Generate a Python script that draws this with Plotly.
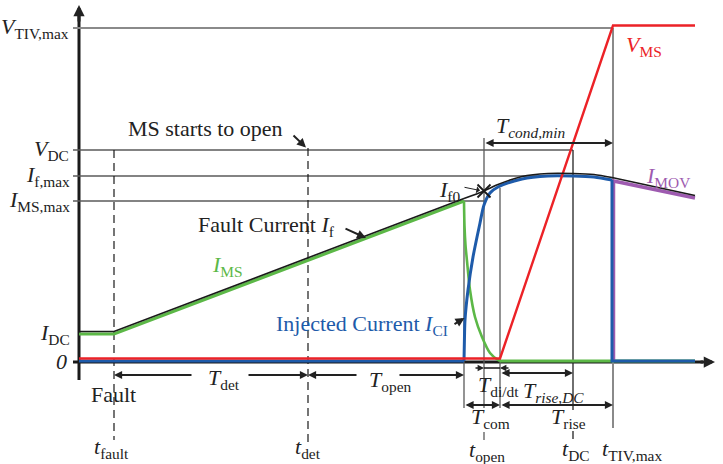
import plotly.graph_objects as go

# ---------------- data (schematic units) ----------------
# key time instants
t_fault, t_det, t_com, t_open, t_didt, t_DC, t_TIV, t_end = 3.5, 22.9, 38.5, 40.5, 42.1, 49.4, 53.4, 61.6
# key levels
V_TIV, V_DC, I_fmax, I_MSmax, I_DC = 33.3, 21.1, 18.5, 16.0, 2.7

# fault current I_f
If_ramp_t = [0, t_fault, t_com]
If_ramp_v = [I_DC, I_DC, I_MSmax]
If_top_t = [38.5, 40.5, 41.9, 44.3, 46.9, 49.4, 51.5, 53.3]
If_top_v = [16.0, 16.75, 17.4, 18.2, 18.5, 18.5, 18.4, 18.1]
If_tail_t = [53.3, 61.6]
If_tail_v = [18.1, 16.3]

# main switch current I_MS
Ims_ramp_t = [0, t_fault, t_com]
Ims_ramp_v = [I_DC, I_DC, I_MSmax]
Ims_fall_t = [38.5, 38.55, 38.65, 38.8, 39.1, 39.6, 40.3, 41.1, 41.9, 42.1]
Ims_fall_v = [16.0, 13.5, 11.6, 10.0, 7.1, 4.4, 2.4, 0.8, 0.1, 0.0]
Ims_zero_t = [42.1, 61.6]
Ims_zero_v = [0, 0]

# injected current I_CI
Ici_zero_t = [0, 38.5]
Ici_zero_v = [0, 0]
Ici_rise_t = [38.5, 38.55, 38.6, 38.9, 39.4, 40.1, 40.5, 41.1, 41.9, 44.3, 46.9, 49.4, 51.5, 53.3]
Ici_rise_v = [0, 2.5, 4.1, 7.1, 10.4, 13.8, 15.6, 16.8, 17.4, 18.2, 18.5, 18.5, 18.4, 18.1]
Ici_off_t = [53.3, 53.3, 61.6]
Ici_off_v = [18.1, 0, 0]

# MOV current
Imov_t = [53.45, 53.45, 61.6]
Imov_v = [0, 18.0, 16.3]

# MS voltage
Vms_t = [0, t_didt, t_TIV, t_end]
Vms_v = [0, 0, V_TIV, V_TIV]

# ---------------- styling ----------------
RED = '#EC2227'
BLUE = '#1E5BAA'
GREEN = '#5CB847'
PURPLE = '#9E5BB0'
BLACK = '#1a1a1a'
GRAY = '#8a8a8a'
DGRAY = '#5a5a5a'
FONT = 'Liberation Serif, Times New Roman, serif'
FS = 22

fig = go.Figure()

def tr(x, y, color, w, shape='linear', axis='y'):
    fig.add_trace(go.Scatter(x=x, y=y, mode='lines', yaxis=axis,
                             line=dict(color=color, width=w, shape=shape, smoothing=0.8),
                             hoverinfo='skip', showlegend=False))

# green I_MS
tr(Ims_ramp_t, Ims_ramp_v, GREEN, 3.2)
tr(Ims_fall_t, Ims_fall_v, GREEN, 2.6, 'spline')
tr(Ims_zero_t, Ims_zero_v, GREEN, 3)
# purple I_MOV
tr(Imov_t, Imov_v, PURPLE, 3.5)
# blue I_CI
tr(Ici_zero_t, Ici_zero_v, BLUE, 3)
tr(Ici_rise_t, Ici_rise_v, BLUE, 3, 'spline')
tr(Ici_off_t, Ici_off_v, BLUE, 3)
# red V_MS (on slightly shifted overlay axis so it sits just above the blue)
tr(Vms_t, Vms_v, RED, 2.4, axis='y2')
# black fault current
tr(If_ramp_t, If_ramp_v, BLACK, 1.6, axis='y2')
tr(If_top_t, If_top_v, BLACK, 1.6, 'spline', axis='y2')
tr(If_tail_t, If_tail_v, BLACK, 1.6, axis='y2')

# X mark at I_f0
fig.add_trace(go.Scatter(x=[t_open], y=[17.0], mode='markers',
                         marker=dict(symbol='x-thin', size=13, line=dict(color=BLACK, width=1.8)),
                         hoverinfo='skip', showlegend=False))

shapes = []
def ln(x0, y0, x1, y1, color=DGRAY, w=1.4, dash='solid'):
    shapes.append(dict(type='line', x0=x0, y0=y0, x1=x1, y1=y1, xref='x', yref='y',
                       layer='below', line=dict(color=color, width=w, dash=dash)))

# axes
ln(0, -1.9, 0, 34.6, BLACK, 3)
ln(-0.6, -0.1, 62.4, -0.1, BLACK, 3)
# reference horizontals
ln(-0.6, V_TIV, t_TIV, V_TIV, GRAY, 1.8)
ln(-0.6, V_DC, t_DC, V_DC, DGRAY, 1.4)
ln(-0.6, I_fmax, t_DC, I_fmax, DGRAY, 1.4)
ln(-0.6, I_MSmax, t_open, I_MSmax, DGRAY, 1.4)
# verticals
ln(t_fault, V_DC, t_fault, -7.9, BLACK, 1.2, '8px,5px')
ln(t_det, V_DC + 0.2, t_det, -8.3, BLACK, 1.2, '8px,5px')
ln(t_com, I_MSmax, t_com, -4.7, DGRAY, 1.3)
ln(t_open, 22.3, t_open, -4.7, DGRAY, 1.3)
ln(t_open, -7.1, t_open, -7.9, DGRAY, 1.3)
ln(t_didt, 17.3, t_didt, -4.7, DGRAY, 1.3)
ln(t_DC, V_DC, t_DC, -4.9, '#222222', 1.3)
ln(t_DC, -7.0, t_DC, -7.8, '#222222', 1.3)
ln(t_TIV, V_TIV, t_TIV, -6.7, GRAY, 2)
ln(t_open, -0.7, t_didt, -0.7, '#222222', 1.6)

anns = []
def arrow(x0, y0, x1, y1, both=False, w=1.8, size=0.9, head=2, color='#222222'):
    anns.append(dict(x=x1, y=y1, ax=x0, ay=y0, xref='x', yref='y', axref='x', ayref='y',
                     text='', showarrow=True, arrowhead=head, arrowsize=size, arrowwidth=w,
                     arrowcolor=color, standoff=0, startstandoff=0,
                     arrowside='end+start' if both else 'end',
                     startarrowhead=head, startarrowsize=size))

def label(x, y, text, color='#222222', size=FS, xanchor='center', yanchor='middle'):
    anns.append(dict(x=x, y=y, xref='x', yref='y', text=text, showarrow=False,
                     xanchor=xanchor, yanchor=yanchor,
                     font=dict(family=FONT, size=size, color=color)))

# axis arrowheads
arrow(0, 33.8, 0, 35.6, w=3, size=0.75)
arrow(62.0, -0.1, 63.6, -0.1, w=3, size=0.75)

# dimension arrows
arrow(11.4, -1.4, t_fault, -1.4)
arrow(16.8, -1.4, t_det, -1.4)
arrow(27.9, -1.4, t_det, -1.4)
arrow(31.9, -1.4, t_com, -1.4)
arrow(39.5, -0.7, t_open, -0.7, w=1.6, size=0.8)
arrow(43.1, -0.7, t_didt, -0.7, w=1.6, size=0.8)
arrow(t_didt, -1.2, t_DC, -1.2, both=True)
arrow(t_com, -4.4, t_didt, -4.4, both=True)
arrow(t_didt, -4.4, t_TIV, -4.4, both=True)
arrow(t_open, 21.8, t_TIV, 21.8, both=True)
# pointer arrows
arrow(21.3, 22.7, 22.7, 21.35, w=2)
arrow(26.5, 13.3, 28.7, 12.3, w=2)
arrow(37.4, 3.6, 38.55, 4.3, w=2)
arrow(38.4, 17.4, 40.1, 17.05, w=1, size=1.2, head=1)

# axis labels
label(-0.8, V_TIV, '<i>V</i><sub>TIV,max</sub>', xanchor='right')
label(-0.8, V_DC, '<i>V</i><sub>DC</sub>', xanchor='right')
label(-0.7, I_fmax, '<i>I</i><sub>f,max</sub>', xanchor='right')
label(-0.7, I_MSmax, '<i>I</i><sub>MS,max</sub>', xanchor='right')
label(-0.7, I_DC, '<i>I</i><sub>DC</sub>', xanchor='right')
label(-1.0, 0, '<i>0</i>', xanchor='right')

# curve labels
label(12.6, 23.3, 'MS starts to open')
label(25.8, 13.5, 'Fault Current <i>I</i><sub>f</sub>', xanchor='right')
label(14.8, 9.5, '<i>I</i><sub>MS</sub>', color=GREEN)
label(37.1, 3.6, 'Injected Current <i>I</i><sub>CI</sub>', color=BLUE, xanchor='right')
label(38.3, 17.0, '<i>I</i><sub>f0</sub>', xanchor='right')
label(54.5, 31.5, '<i>V</i><sub>MS</sub>', color=RED, xanchor='left')
label(56.5, 18.4, '<i>I</i><sub>MOV</sub>', color=PURPLE, xanchor='left')

# interval labels
label(45.1, 23.4, '<i>T</i><sub><i>cond,min</i></sub>')
label(14.5, -1.8, '<i>T</i><sub>det</sub>')
label(31.1, -2.0, '<i>T</i><sub>open</sub>')
label(41.9, -2.5, '<i>T</i><sub>di/dt</sub>')
label(47.4, -3.1, '<i>T</i><sub><i>rise,DC</i></sub>')
label(41.1, -5.7, '<i>T</i><sub>com</sub>')
label(48.9, -5.7, '<i>T</i><sub>rise</sub>')
label(3.4, -3.3, 'Fault')

# time-instant labels
label(3.2, -8.7, '<i>t</i><sub>fault</sub>')
label(22.9, -8.7, '<i>t</i><sub>det</sub>')
label(40.8, -9.0, '<i>t</i><sub>open</sub>')
label(49.7, -8.9, '<i>t</i><sub>DC</sub>')
label(55.3, -8.9, '<i>t</i><sub>TIV,max</sub>')

fig.update_layout(
    width=723, height=464,
    margin=dict(l=0, r=0, t=0, b=0),
    paper_bgcolor='white', plot_bgcolor='white',
    xaxis=dict(range=[-7.9, 64.4], visible=False, fixedrange=True),
    yaxis=dict(range=[-10.3, 36.1], visible=False, fixedrange=True),
    yaxis2=dict(range=[-10.55, 35.85], visible=False, overlaying='y', fixedrange=True),
    shapes=shapes, annotations=anns,
    font=dict(family=FONT),
)

fig.write_html('out.html')
